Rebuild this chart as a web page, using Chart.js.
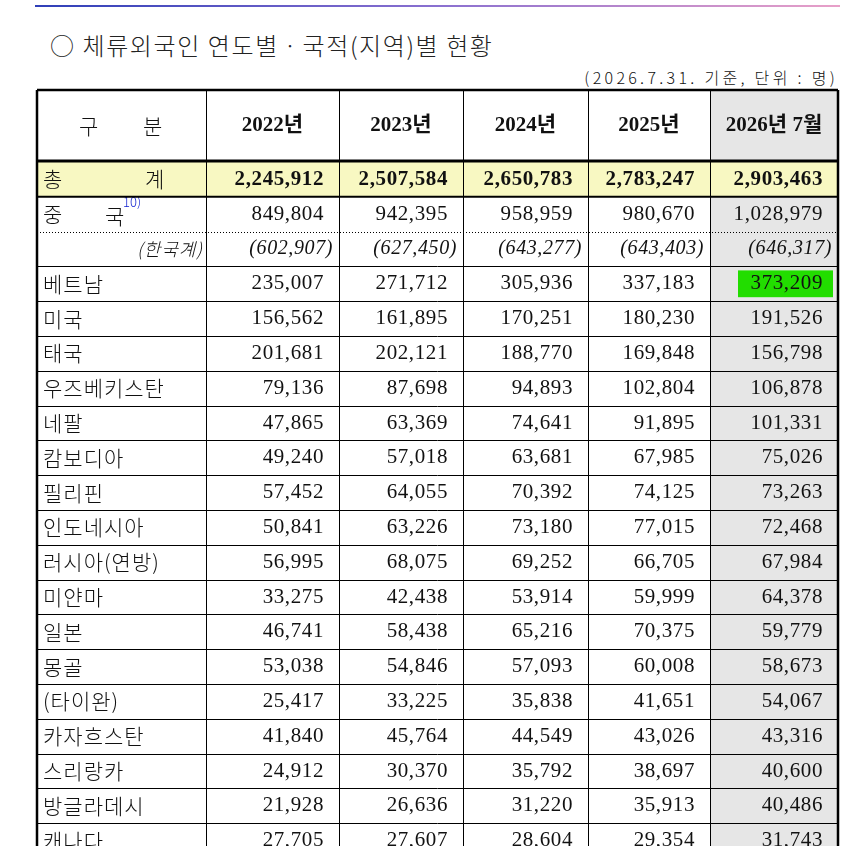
<!DOCTYPE html>
<html><head><meta charset="utf-8">
<script src="https://cdn.jsdelivr.net/npm/chart.js@4"></script>
<style>
html,body{margin:0;padding:0;background:#fff;overflow:hidden;width:865px;height:846px}
#wrap{position:absolute;left:0;top:0;width:865px;height:858px}
#title{position:absolute;left:50px;top:27px;font:24px "Noto Sans CJK KR";color:#222;white-space:nowrap;font-weight:300;letter-spacing:1.6px}
#sub{position:absolute;right:27px;top:65px;font:16px "Noto Sans CJK KR";color:#111;letter-spacing:3.3px;white-space:nowrap;font-weight:300}
#topline{position:absolute;left:35px;top:5px;width:805px;height:2px;background:linear-gradient(90deg,#2f3fb8,#8a70d0 50%,#e8a0c8)}
</style></head><body>
<div id="topline"></div>
<div id="title">○ 체류외국인 연도별ㆍ국적(지역)별 현황</div>
<div id="sub">(2026.7.31. 기준, 단위 : 명)</div>
<div id="wrap"><canvas id="c"></canvas></div>
<script>
const columns = ['2022년','2023년','2024년','2025년','2026년 7월'];
const rowLabels = ['총계','중국','(한국계)','베트남','미국','태국','우즈베키스탄','네팔','캄보디아','필리핀','인도네시아','러시아(연방)','미얀마','일본','몽골','(타이완)','카자흐스탄','스리랑카','방글라데시','캐나다'];
const v2022 = [2245912,849804,602907,235007,156562,201681,79136,47865,49240,57452,50841,56995,33275,46741,53038,25417,41840,24912,21928,27705];
const v2023 = [2507584,942395,627450,271712,161895,202121,87698,63369,57018,64055,63226,68075,42438,58438,54846,33225,45764,30370,26636,27607];
const v2024 = [2650783,958959,643277,305936,170251,188770,94893,74641,63681,70392,73180,69252,53914,65216,57093,35838,44549,35792,31220,28604];
const v2025 = [2783247,980670,643403,337183,180230,169848,102804,91895,67985,74125,77015,66705,59999,70375,60008,41651,43026,38697,35913,29354];
const v2026 = [2903463,1028979,646317,373209,191526,156798,106878,101331,75026,73263,72468,67984,64378,59779,58673,54067,43316,40600,40486,31743];
const series = [v2022,v2023,v2024,v2025,v2026];

const colWeights = [169,133,124,125,122,128];
const NUM = '"Liberation Serif","Noto Sans CJK KR"';
const KR = '"Noto Sans CJK KR"';
const fmt = n => n.toLocaleString('en-US');

const tablePlugin = {
  id:'table',
  afterDraw(chart){
    const ctx = chart.ctx, ca = chart.chartArea, ys = chart.scales.y;
    const total = colWeights.reduce((a,b)=>a+b,0);
    const edges=[ca.left]; colWeights.forEach(w=>edges.push(edges[edges.length-1]+w*(ca.right-ca.left)/total));
    const n = rowLabels.length;
    const h = ys.getPixelForValue(1)-ys.getPixelForValue(0);
    const top = i => ys.getPixelForValue(i)-h/2;
    const headTop = 90, headBot = top(0);
    ctx.save();
    ctx.fillStyle='#e6e6e6';
    ctx.fillRect(edges[5],headTop,edges[6]-edges[5],top(n)-headTop);
    ctx.fillStyle='#f8f8c2';
    ctx.fillRect(edges[0],top(0),edges[6]-edges[0],h);
    const vi = rowLabels.indexOf('베트남');
    ctx.fillStyle='#22dd00';
    ctx.fillRect(edges[5]+28,top(vi)+4,edges[6]-edges[5]-33,h-8);
    ctx.fillStyle='#111';ctx.textBaseline='middle';
    const hc=(headTop+headBot)/2;
    ctx.letterSpacing='0px';
    ctx.font='300 21px '+KR;ctx.textAlign='left';
    ctx.fillText('구',edges[0]+42,hc);ctx.fillText('분',edges[0]+106,hc);
    ctx.font='bold 21px '+NUM;ctx.textAlign='center';
    columns.forEach((c,j)=>ctx.fillText(c,(edges[j+1]+edges[j+2])/2,hc));
    for(let i=0;i<n;i++){
      const yc=ys.getPixelForValue(i);
      const lab=rowLabels[i];
      ctx.textAlign='left';ctx.letterSpacing='1px';
      if(i===0){ctx.font='300 21px '+KR;ctx.fillText('총',edges[0]+6,yc);ctx.fillText('계',edges[0]+108,yc);}
      else if(i===1){ctx.font='300 21px '+KR;ctx.fillText('중',edges[0]+6,yc);ctx.fillText('국',edges[0]+68,yc+2);
        ctx.letterSpacing='0px';ctx.fillStyle='#1020d0';ctx.font='300 13px '+KR;ctx.fillText('10)',edges[0]+86,yc-12);ctx.fillStyle='#111';}
      else if(i===2){ctx.font='italic 300 18px '+KR;ctx.textAlign='right';ctx.fillText(lab,edges[1]-3,yc);}
      else {ctx.font='300 21px '+KR;ctx.fillText(lab,edges[0]+6,yc);}
      ctx.textAlign='right';ctx.letterSpacing='0.6px';
      for(let j=0;j<5;j++){
        const v=series[j][i];
        if(i===0){ctx.font='bold 21px '+NUM;ctx.fillText(fmt(v),edges[j+2]-15,yc);}
        else if(i===2){ctx.font='italic 20px '+NUM;ctx.fillText('('+fmt(v)+')',edges[j+2]-6,yc);}
        else {ctx.font='21px '+NUM;ctx.fillText(fmt(v),edges[j+2]-15,yc);}
      }
    }
    ctx.letterSpacing='0px';
    ctx.strokeStyle='#000';
    const hl=(y,w,dash)=>{ctx.lineWidth=w;ctx.setLineDash(dash||[]);ctx.beginPath();ctx.moveTo(edges[0],y);ctx.lineTo(edges[6],y);ctx.stroke();};
    for(let i=1;i<=n;i++){ if(i===1) continue; hl(Math.round(top(i))+0.5,1,i===2?[1,2]:null); }
    hl(top(0)-1,3); hl(top(1),2);
    ctx.setLineDash([]);ctx.lineWidth=1;
    for(let j=1;j<6;j++){const x=Math.round(edges[j])+0.5;ctx.beginPath();ctx.moveTo(x,headTop);ctx.lineTo(x,top(n));ctx.stroke();}
    ctx.lineWidth=2.5;
    ctx.beginPath();ctx.moveTo(edges[0],headTop);ctx.lineTo(edges[6],headTop);ctx.stroke();
    ctx.beginPath();ctx.moveTo(edges[0],headTop);ctx.lineTo(edges[0],top(n));ctx.stroke();
    ctx.beginPath();ctx.moveTo(edges[6],headTop);ctx.lineTo(edges[6],top(n));ctx.stroke();
    ctx.restore();
  }
};

new Chart(document.getElementById('c'),{
  type:'bar',
  data:{labels:rowLabels,datasets:[{data:rowLabels.map(()=>null),backgroundColor:'transparent'}]},
  options:{indexAxis:'y',responsive:true,maintainAspectRatio:false,animation:false,
    layout:{padding:{top:162,left:37,right:27,bottom:0}},
    plugins:{legend:{display:false},tooltip:{enabled:false}},
    scales:{x:{display:false,min:0,max:1},y:{display:false,offset:true}}},
  plugins:[tablePlugin]
});
</script></body></html>
